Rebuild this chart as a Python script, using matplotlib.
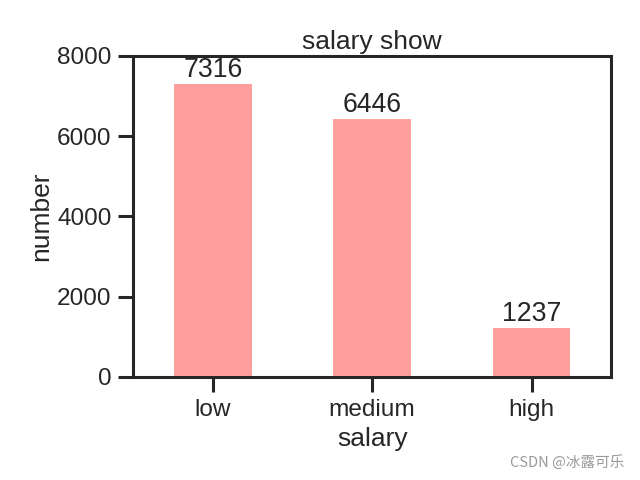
import matplotlib
matplotlib.use("Agg")
import matplotlib.pyplot as plt
import seaborn as sns

categories = ["low", "medium", "high"]
values = [7316, 6446, 1237]
yticks = [0, 2000, 4000, 6000, 8000]

sns.set_theme(style="ticks", context="talk")
plt.rcParams["font.family"] = ["Liberation Sans", "DejaVu Sans"]

fig = plt.figure(figsize=(6.4, 4.8), dpi=100)
ax = fig.add_axes([0.208, 0.2146, 0.747, 0.6688])
x = list(range(len(categories)))
ax.bar(x, values, width=0.5, color="#FF9E9B")
for xi, v in zip(x, values):
    ax.annotate(str(v), (xi, v), xytext=(0, 0.5), textcoords="offset points",
                ha="center", va="bottom", fontsize=19.2, color=".15")
ax.set_xticks(x)
ax.set_xticklabels(categories, rotation=0)
ax.set_xlim(-0.5, 2.5)
ax.set_ylim(0, 8000)
ax.set_yticks(yticks)
for s in ax.spines.values():
    s.set_linewidth(2.2)
    s.set_color(".15")
ax.tick_params(axis="both", which="major", direction="out", length=11, width=2.2,
               pad=4.5, bottom=True, left=True, color=".15", labelsize=17.6)
ax.set_xlabel("salary", labelpad=4.5, fontsize=19)
ax.set_ylabel("number", labelpad=3, fontsize=19)
ax.set_title("salary show", fontsize=19, pad=5)
fig.text(0.975, 0.037, "CSDN @冰露可乐", ha="right", va="center", fontsize=10.5,
         color="#999999", family=["Noto Sans CJK SC", "DejaVu Sans"])
fig.savefig("out.png", dpi=100)
